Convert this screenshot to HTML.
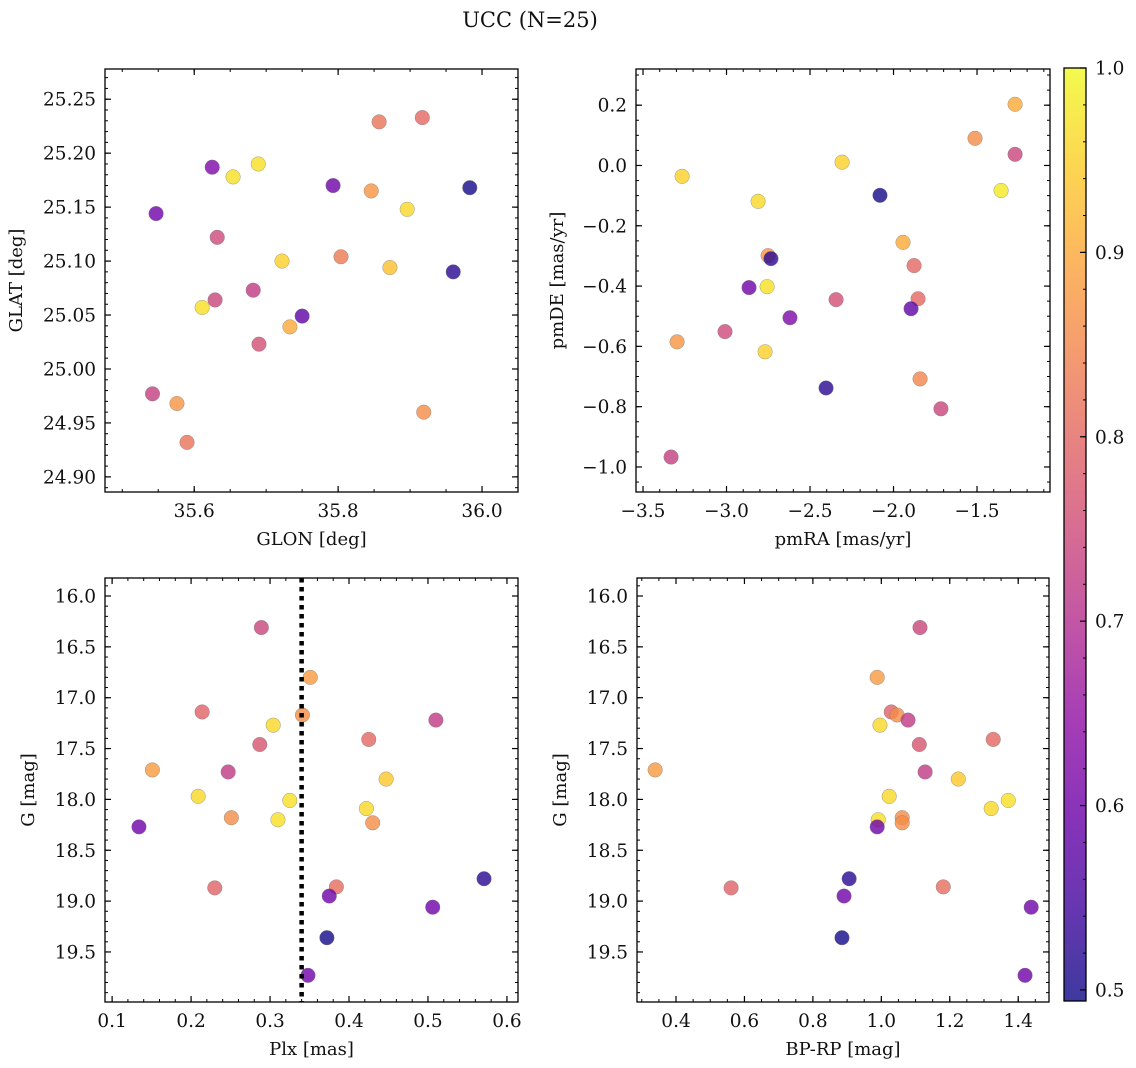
<!DOCTYPE html>
<html><head><meta charset="utf-8">
<style>
html,body{margin:0;padding:0;background:#fff;}
svg{display:block;font-family:"DejaVu Serif","Liberation Serif",serif;}
</style></head>
<body>
<svg id="fig" width="1136" height="1068" viewBox="0 0 1136 1068" xmlns="http://www.w3.org/2000/svg">
<text x="530" y="27" font-size="21" text-anchor="middle" fill="#111">UCC (N=25)</text>
</svg>
<script>
// ---- Panel 1: GLON / GLAT ----
const glon = [35.917,35.857,35.625,35.654,35.689,35.793,35.846,35.983,35.547,35.896,35.632,35.722,35.804,35.872,35.960,35.682,35.629,35.611,35.750,35.733,35.690,35.542,35.576,35.919,35.590];
const glat = [25.233,25.229,25.187,25.178,25.190,25.170,25.165,25.168,25.144,25.148,25.122,25.100,25.104,25.094,25.090,25.073,25.064,25.057,25.049,25.039,25.023,24.977,24.968,24.960,24.932];
const prob1 = [0.80,0.82,0.62,0.97,0.97,0.60,0.87,0.50,0.60,0.96,0.75,0.95,0.83,0.93,0.52,0.72,0.74,0.97,0.58,0.90,0.76,0.73,0.87,0.86,0.82];
// ---- Panel 2: pmRA / pmDE ----
const pmra = [-1.272,-1.512,-1.272,-2.308,-3.266,-1.356,-2.081,-2.811,-1.943,-2.751,-2.734,-1.877,-2.865,-2.757,-1.853,-2.344,-1.895,-2.620,-3.009,-3.296,-2.769,-2.404,-1.841,-1.716,-3.332];
const pmde = [0.203,0.090,0.037,0.011,-0.036,-0.083,-0.099,-0.119,-0.255,-0.299,-0.309,-0.332,-0.405,-0.402,-0.442,-0.445,-0.475,-0.505,-0.551,-0.585,-0.618,-0.738,-0.708,-0.807,-0.967];
const prob2 = [0.90,0.86,0.74,0.95,0.95,0.98,0.50,0.96,0.90,0.87,0.52,0.80,0.60,0.97,0.80,0.76,0.58,0.62,0.75,0.87,0.95,0.52,0.85,0.74,0.73];
// ---- Panels 3/4: Plx, BP-RP vs G ----
const gmag = [16.31,16.80,17.14,17.17,17.27,17.22,17.46,17.41,17.71,17.73,17.80,17.97,18.01,18.09,18.18,18.20,18.23,18.27,18.87,18.86,18.95,18.78,19.06,19.36,19.73];
const plx  = [0.289,0.351,0.214,0.341,0.304,0.510,0.287,0.425,0.151,0.247,0.447,0.209,0.325,0.422,0.251,0.310,0.430,0.134,0.230,0.384,0.375,0.571,0.506,0.372,0.348];
const bprp = [1.113,0.988,1.029,1.046,0.996,1.078,1.111,1.327,0.339,1.128,1.225,1.023,1.371,1.321,1.061,0.991,1.061,0.988,0.561,1.181,0.891,0.906,1.438,0.885,1.420];
const prob3 = [0.74,0.88,0.79,0.86,0.96,0.72,0.77,0.80,0.88,0.72,0.94,0.96,0.97,0.96,0.86,0.97,0.86,0.60,0.79,0.81,0.60,0.52,0.60,0.50,0.60];
const plxLine = [0.34];
// ---- ticks ----
const ticks1x = [35.6,35.8,36.0], ticks1y = [24.90,24.95,25.00,25.05,25.10,25.15,25.20,25.25];
const ticks2x = [-3.5,-3.0,-2.5,-2.0,-1.5], ticks2y = [-1.0,-0.8,-0.6,-0.4,-0.2,0.0,0.2];
const ticks3x = [0.1,0.2,0.3,0.4,0.5,0.6], ticksG = [16.0,16.5,17.0,17.5,18.0,18.5,19.0,19.5];
const ticks4x = [0.4,0.6,0.8,1.0,1.2,1.4], ticksCb = [0.5,0.6,0.7,0.8,0.9,1.0];
const cbMin = 0.494, cbMax = 1.0;

const TF = 18.5, LF = 18;
const NS = "http://www.w3.org/2000/svg";
const svg = document.getElementById('fig');
function el(tag, attrs, parent){ const e=document.createElementNS(NS,tag); for(const k in attrs) e.setAttribute(k,attrs[k]); (parent||svg).appendChild(e); return e; }

const plasma = ["#0d0887","#41049d","#6a00a8","#8f0da4","#b12a90","#cc4778","#e16462","#f2844b","#fca636","#fcce25","#f0f921"];
function hex(h){return [parseInt(h.substr(1,2),16),parseInt(h.substr(3,2),16),parseInt(h.substr(5,2),16)];}
function cmap(t){ t=Math.max(0,Math.min(1,t)); const p=t*10, i=Math.min(9,Math.floor(p)), f=p-i; const a=hex(plasma[i]), b=hex(plasma[i+1]); return 'rgb('+a.map((v,k)=>Math.round(v+(b[k]-v)*f)).join(',')+')'; }
function colorOf(v){ return cmap((v-cbMin)/(cbMax-cbMin)); }
function fmt(v,d){ const s=Math.abs(v).toFixed(d); return (v<-1e-9?'\u2212':'')+s; }

function panel(name, box, xd, yd, yInv, xt, yt, xDec, yDec, xMinor, yMinor, xlab, ylab, ylabX){
  const [L,T,R,B]=box;
  const sx = v => L + (v-xd[0])/(xd[1]-xd[0])*(R-L);
  const sy = yInv ? (v => T + (v-yd[0])/(yd[1]-yd[0])*(B-T)) : (v => B - (v-yd[0])/(yd[1]-yd[0])*(B-T));
  const g = el('g',{});
  
  
  const ax = el('g',{},g);
  
  
  const eps=1e-9;
  let start=Math.ceil((xd[0]-eps)/xMinor)*xMinor;
  for(let v=start; v<=xd[1]+eps; v+=xMinor){ const x=sx(v); el('line',{x1:x,x2:x,y1:B,y2:B-3,stroke:'#000','stroke-width':1},ax); el('line',{x1:x,x2:x,y1:T,y2:T+3,stroke:'#000','stroke-width':1},ax); }
  start=Math.ceil((Math.min(yd[0],yd[1])-eps)/yMinor)*yMinor;
  for(let v=start; v<=Math.max(yd[0],yd[1])+eps; v+=yMinor){ const y=sy(v); el('line',{x1:L,x2:L+3,y1:y,y2:y,stroke:'#000','stroke-width':1},ax); el('line',{x1:R,x2:R-3,y1:y,y2:y,stroke:'#000','stroke-width':1},ax); }
  xt.forEach(v=>{ const x=sx(v); el('line',{x1:x,x2:x,y1:B,y2:B-6,stroke:'#000','stroke-width':1.2},ax); el('line',{x1:x,x2:x,y1:T,y2:T+6,stroke:'#000','stroke-width':1.2},ax);
    const t=el('text',{x:x,y:B+25,'font-size':TF,'text-anchor':'middle',fill:'#111'},ax); t.textContent=fmt(v,xDec);
    
     });
  yt.forEach(v=>{ const y=sy(v); el('line',{x1:L,x2:L+6,y1:y,y2:y,stroke:'#000','stroke-width':1.2},ax); el('line',{x1:R,x2:R-6,y1:y,y2:y,stroke:'#000','stroke-width':1.2},ax);
    const t=el('text',{x:L-9,y:y+6.5,'font-size':TF,'text-anchor':'end',fill:'#111'},ax); t.textContent=fmt(v,yDec);
    
     });
  const xl=el('text',{x:(L+R)/2,y:B+53,'font-size':LF,'text-anchor':'middle',fill:'#111'},g); xl.textContent=xlab;
  
  
  const yl=el('text',{x:ylabX,y:(T+B)/2,'font-size':LF,'text-anchor':'middle',fill:'#111',transform:'rotate(-90 '+ylabX+' '+(T+B)/2+')'},g); yl.textContent=ylab;
  
  
  return {g,sx,sy,box};
}
function scatter(p, xs, ys, cs, name){
  xs.forEach((xv,i)=>{
    const c=el('circle',{cx:p.sx(xv),cy:p.sy(ys[i]),r:7.3,fill:colorOf(cs[i]),'fill-opacity':0.8,stroke:'#777','stroke-width':0.5,'stroke-opacity':0.7},p.g);
    
    
  });
}
function frame(p){ const [L,T,R,B]=p.box; const r=el('rect',{x:L,y:T,width:R-L,height:B-T,fill:'none',stroke:'#000','stroke-width':1.3},p.g);
  
   }

const p1 = panel('glon-glat-panel',[105,69,518,492],[35.476,36.05],[24.886,25.278],false,ticks1x,ticks1y,1,2,0.05,0.01,'GLON [deg]','GLAT [deg]',22);
scatter(p1, glon, glat, prob1, 'star-point'); frame(p1);
const p2 = panel('proper-motion-panel',[636,69,1050,492],[-3.542,-1.063],[-1.083,0.32],false,ticks2x,ticks2y,1,1,0.1,0.05,'pmRA [mas/yr]','pmDE [mas/yr]',563);
scatter(p2, pmra, pmde, prob2, 'star-point'); frame(p2);
const p3 = panel('parallax-panel',[105,578,518,1002],[0.091,0.614],[15.823,19.992],true,ticks3x,ticksG,1,1,0.02,0.1,'Plx [mas]','G [mag]',34);
scatter(p3, plx, gmag, prob3, 'star-point');
plxLine.forEach(v=>{ const x=p3.sx(v); const l=el('line',{x1:x,x2:x,y1:578,y2:1002,stroke:'#000','stroke-width':4.5,'stroke-dasharray':'4.5 4.5'},p3.g);
  
   });
frame(p3);
const p4 = panel('cmd-panel',[637,578,1049,1002],[0.286,1.490],[15.823,19.992],true,ticks4x,ticksG,1,1,0.05,0.1,'BP-RP [mag]','G [mag]',566);
scatter(p4, bprp, gmag, prob3, 'star-point'); frame(p4);

// ---- colorbar ----
(function(){
  const L=1064,R=1086,T=68,B=1001;
  const g=el('g',{});
  
  
  const defs=el('defs',{},g);
  const lg=el('linearGradient',{id:'cbg',x1:0,y1:1,x2:0,y2:0},defs);
  for(let i=0;i<=20;i++){ el('stop',{offset:i/20,'stop-color':cmap(i/20)},lg); }
  el('rect',{x:L,y:T,width:R-L,height:B-T,fill:'url(#cbg)','fill-opacity':0.8},g);
  const sy=v=>B-(v-cbMin)/(cbMax-cbMin)*(B-T);
  for(let v=0.5; v<=1.0001; v+=0.02){ const y=sy(v); el('line',{x1:R,x2:R-3,y1:y,y2:y,stroke:'#000','stroke-width':1},g); }
  ticksCb.forEach(v=>{ const y=sy(v); el('line',{x1:R,x2:R-6,y1:y,y2:y,stroke:'#000','stroke-width':1.2},g);
    const t=el('text',{x:R+9,y:y+6.5,'font-size':TF,fill:'#111'},g); t.textContent=v.toFixed(1);
    
     });
  el('rect',{x:L,y:T,width:R-L,height:B-T,fill:'none',stroke:'#000','stroke-width':1.3},g);
})();
</script>
</body></html>
